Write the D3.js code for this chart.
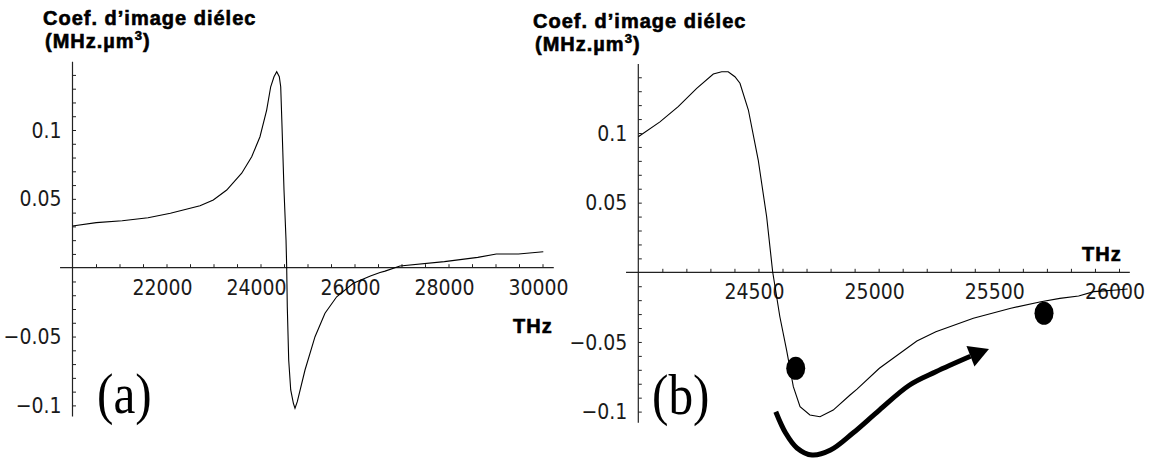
<!DOCTYPE html>
<html><head><meta charset="utf-8">
<script src="https://cdn.jsdelivr.net/npm/d3@7"></script>
<style>
body{margin:0;background:#fff}
svg{display:block;background:#fff}
.tl{font-family:"Liberation Sans Narrow","DejaVu Sans Condensed","Liberation Sans",sans-serif;font-size:21px;fill:#1a1a1a}
.ttl{font-family:"Liberation Sans",Arial,sans-serif;font-weight:bold;font-size:20px;letter-spacing:1px;fill:#000;stroke:#000;stroke-width:0.6px}
.pl{font-family:"Liberation Serif","Times New Roman",serif;font-size:56px;fill:#000}
</style></head><body>
<svg id="c" width="1149" height="461"></svg>
<script>
// ---------- data ----------
const aFreq  = [20000,20506,21057,21607,22083,22713,22996,23281,23600,23813,23989,24131,24217,24287,24345,24400,24430,24457,24500,24543,24557,24570,24600,24643,24700,24734,24783,24947,25160,25372,25621,25975,26338,26543,26650,26968,27913,28623,29017,29489,30017];
const aValue = [0.0303,0.0327,0.0341,0.0363,0.0395,0.045,0.0492,0.0564,0.0686,0.0806,0.0951,0.1145,0.1314,0.1387,0.1423,0.1387,0.1314,0.1036,0.0564,0.0201,0.0007,-0.0283,-0.067,-0.0888,-0.0985,-0.1021,-0.0973,-0.0743,-0.0501,-0.0331,-0.0211,-0.0113,-0.006,-0.0035,-0.0025,0.0012,0.0044,0.0075,0.0099,0.0099,0.0116];

const bFreq  = [24000,24090,24166,24243,24312,24347,24374,24402,24423,24458,24499,24534,24559,24589,24617,24645,24673,24714,24756,24811,24881,24910,25003,25159,25238,25394,25550,25675,25754,25832,25895,25989,26036];
const bValue = [0.0973,0.108,0.1189,0.132,0.1423,0.144,0.144,0.1404,0.1357,0.1165,0.0806,0.0399,0.0004,-0.0319,-0.0558,-0.0821,-0.0965,-0.1024,-0.1037,-0.0989,-0.0881,-0.0839,-0.0689,-0.0493,-0.0426,-0.033,-0.0258,-0.0211,-0.0187,-0.017,-0.0139,-0.0127,-0.012];

const dotFreq  = [24655, 25688];
const dotValue = [-0.0689, -0.0294];

const arrowFreq  = [24572,24613,24660,24723,24800,24893,25003,25129,25238,25382];
const arrowValue = [-0.1001,-0.1154,-0.1261,-0.1312,-0.1276,-0.1154,-0.0989,-0.0809,-0.0714,-0.0603];
const arrowTip   = [25459, -0.0551];

const aXTicks = [22000,24000,26000,28000,30000];
const aXLabels = ["22000","24000","26000","28000","30000"];
const bXTicks = [24500,25000,25500,26000];
const bXLabels = ["24500","25000","25500","26000"];
const yTicks = [-0.1,-0.05,0.05,0.1];
const yLabels = ["\u22120.1","\u22120.05","0.05","0.1"];

const titleLine1 = "Coef. d\u2019image di\u00e9lec";
const titleLine2 = "(MHz.\u00b5m";
const titleSup = "3";
const titleEnd = ")";
const xUnit = "THz";
const panelNames = ["(a)", "(b)"];

// ---------- drawing ----------
const svg = d3.select("#c");

function panel(cfg){
  const g = svg.append("g");
  const x = cfg.x, y = cfg.y;
  const xa = d3.axisBottom(x).tickValues(cfg.xMinor).tickSize(-3.5).tickSizeOuter(0).tickFormat("");
  const ya = d3.axisLeft(y).tickValues(cfg.yMinor).tickSize(-3.5).tickSizeOuter(0).tickFormat("");
  const gx = g.append("g").attr("transform", `translate(0,${y(0)})`).call(xa);
  const gy = g.append("g").attr("transform", `translate(${x(cfg.x0)},0)`).call(ya);
  [gx, gy].forEach(s => { s.select(".domain").remove(); s.selectAll("line").attr("stroke","#222").attr("stroke-width",1); });
  g.append("line").attr("x1", x(cfg.xExt[0])).attr("x2", x(cfg.xExt[1])).attr("y1", y(0)).attr("y2", y(0)).attr("stroke","#222").attr("stroke-width",1.2);
  g.append("line").attr("x1", x(cfg.x0)).attr("x2", x(cfg.x0)).attr("y1", y(cfg.yExt[0])).attr("y2", y(cfg.yExt[1])).attr("stroke","#222").attr("stroke-width",1.2);
  g.selectAll(".xl").data(cfg.xTicks).join("text").attr("class","tl")
    .attr("x", (d)=>x(d)-4).attr("y", y(0)+27).attr("text-anchor","middle")
    .text((d,i)=>cfg.xLabels[i]);
  g.selectAll(".yl").data(yTicks).join("text").attr("class","tl")
    .attr("x", x(cfg.x0)-11).attr("y", d=>y(d)).attr("dy","0.36em").attr("text-anchor","end")
    .text((d,i)=>yLabels[i]);
  const pts = cfg.freq.map((f,i)=>[f, cfg.val[i]]);
  g.append("path").attr("d", d3.line().x(d=>x(d[0])).y(d=>y(d[1]))(pts))
    .attr("fill","none").attr("stroke","#000").attr("stroke-width",1.1);
  g.append("text").attr("class","ttl").attr("x",cfg.tx).attr("y",cfg.ty).text(titleLine1);
  const t2 = g.append("text").attr("class","ttl").attr("x",cfg.tx+2).attr("y",cfg.ty+22.5);
  t2.append("tspan").text(titleLine2);
  t2.append("tspan").attr("font-size","13px").attr("dy","-8").text(titleSup);
  t2.append("tspan").attr("dy","8").text(titleEnd);
  g.append("text").attr("class","ttl").attr("x",cfg.ux).attr("y",cfg.uy).attr("font-size","21px").text(xUnit);
  g.append("text").attr("class","pl").attr("transform",`translate(${cfg.px},${cfg.py}) scale(0.88,1)`).text(cfg.name);
  return g;
}

const xA = d3.scaleLinear([20000,30000],[72.5,542.5]);
const yA = d3.scaleLinear([-0.1,0.1],[405.4,130.0]);
panel({x:xA,y:yA,x0:20000,xExt:[19735,30240],yExt:[-0.108,0.1495],
  xMinor:d3.range(20500,30001,500), yMinor:d3.range(-10,15).filter(v=>v!==0).map(v=>v/100),
  xTicks:aXTicks,xLabels:aXLabels,freq:aFreq,val:aValue,
  tx:43,ty:25,ux:513,uy:333,px:97,py:413,name:panelNames[0]});

const xB = d3.scaleLinear([24000,26000],[638.3,1119]);
const yB = d3.scaleLinear([-0.1,0.1],[411.6,133.0]);
const gB = panel({x:xB,y:yB,x0:24000,xExt:[23949,26045],yExt:[-0.108,0.1495],
  xMinor:d3.range(24100,26001,100), yMinor:d3.range(-10,15).filter(v=>v!==0).map(v=>v/100),
  xTicks:bXTicks,xLabels:bXLabels,freq:bFreq,val:bValue,
  tx:533,ty:28,ux:1082,uy:261,px:652,py:414,name:panelNames[1]});

gB.selectAll(".dot").data(dotFreq).join("ellipse")
  .attr("cx",d=>xB(d)).attr("cy",(d,i)=>yB(dotValue[i])).attr("rx",9.5).attr("ry",11.5).attr("fill","#000");

const ap = arrowFreq.map((f,i)=>[xB(f), yB(arrowValue[i])]);
gB.append("path").attr("d", d3.line().curve(d3.curveCatmullRom)(ap))
  .attr("fill","none").attr("stroke","#000").attr("stroke-width",5).attr("stroke-linecap","butt");
const tip = [xB(arrowTip[0]), yB(arrowTip[1])];
const base = ap[ap.length-1];
const dx = tip[0]-base[0], dy = tip[1]-base[1], L = Math.hypot(dx,dy);
const nx = -dy/L, ny = dx/L, hw = 11;
gB.append("path").attr("d", `M${tip[0]},${tip[1]}L${base[0]+nx*hw},${base[1]+ny*hw}L${base[0]-nx*hw},${base[1]-ny*hw}Z`).attr("fill","#000");
</script></body></html>
